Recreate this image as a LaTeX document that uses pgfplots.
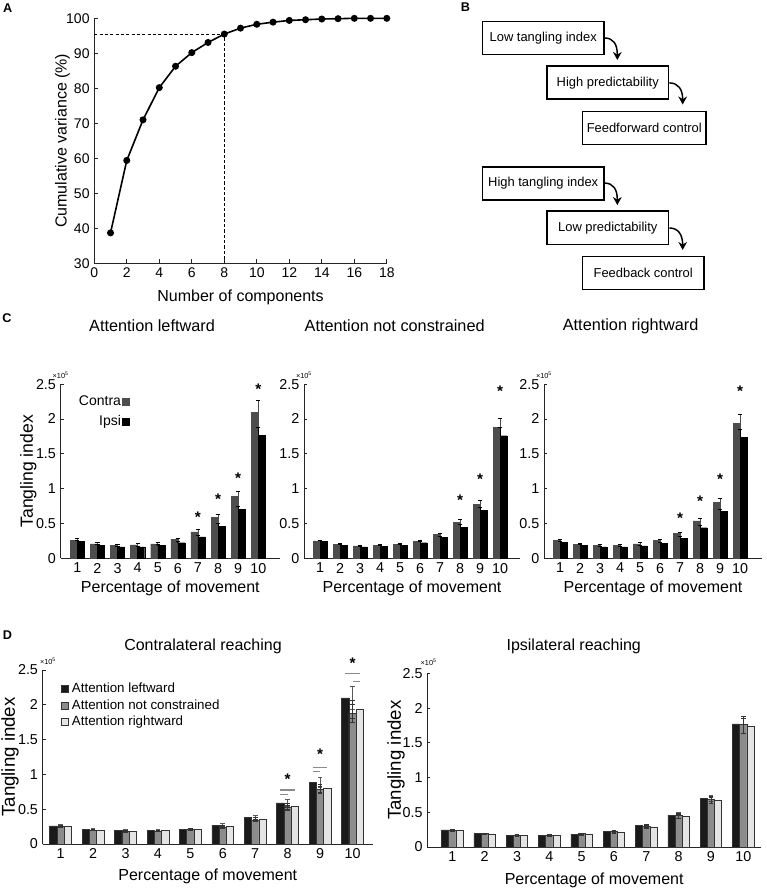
\documentclass[border=0pt]{standalone}
\usepackage{fontspec}
\setmainfont{Liberation Sans}
\usepackage{pgfplots}
\pgfplotsset{compat=1.18}
\usepackage{pgfplotstable}
\usetikzlibrary{arrows.meta}

\definecolor{contra}{HTML}{4D4D4D}
\definecolor{barblack}{HTML}{1A1A1A}
\definecolor{bargrey}{HTML}{8C8C8C}
\definecolor{barlight}{HTML}{E4E4E4}
\definecolor{edge}{HTML}{333333}
\definecolor{sigline}{HTML}{8A8A8A}

% Panel A
\pgfplotstableread{
n v
1 38.7
2 59.4
3 71.0
4 80.2
5 86.3
6 90.2
7 93.1
8 95.5
9 97.2
10 98.3
11 98.9
12 99.4
13 99.6
14 99.8
15 99.9
16 100
17 100
18 100
}\Adata

% Panel C: contra / ipsi with SEM
\pgfplotstableread{
x c ce i ie
1 0.26 0.02 0.245 0.015
2 0.21 0.015 0.19 0.01
3 0.19 0.015 0.165 0.01
4 0.195 0.015 0.165 0.01
5 0.21 0.015 0.185 0.01
6 0.27 0.02 0.225 0.015
7 0.38 0.035 0.31 0.02
8 0.59 0.045 0.46 0.035
9 0.89 0.07 0.70 0.045
10 2.10 0.16 1.77 0.11
}\Cleft
\pgfplotstableread{
x c ce i ie
1 0.25 0.015 0.24 0.015
2 0.20 0.01 0.19 0.01
3 0.18 0.01 0.165 0.01
4 0.185 0.01 0.17 0.01
5 0.205 0.01 0.19 0.01
6 0.245 0.015 0.225 0.015
7 0.34 0.02 0.30 0.02
8 0.52 0.04 0.45 0.035
9 0.78 0.05 0.69 0.04
10 1.88 0.13 1.76 0.12
}\Cnone
\pgfplotstableread{
x c ce i ie
1 0.255 0.015 0.235 0.015
2 0.20 0.01 0.185 0.01
3 0.185 0.01 0.165 0.01
4 0.19 0.01 0.165 0.01
5 0.21 0.015 0.18 0.01
6 0.255 0.015 0.215 0.015
7 0.355 0.025 0.29 0.02
8 0.54 0.04 0.44 0.03
9 0.80 0.06 0.67 0.04
10 1.94 0.13 1.74 0.11
}\Cright

% Panel D
\pgfplotstableread{
x L Le N Ne R Re
1 0.26 0.02 0.25 0.015 0.255 0.015
2 0.21 0.015 0.20 0.01 0.20 0.01
3 0.19 0.015 0.18 0.01 0.185 0.01
4 0.195 0.015 0.185 0.01 0.19 0.01
5 0.21 0.015 0.205 0.01 0.21 0.015
6 0.27 0.02 0.245 0.015 0.255 0.015
7 0.38 0.035 0.34 0.02 0.355 0.025
8 0.59 0.045 0.52 0.04 0.54 0.04
9 0.89 0.07 0.78 0.05 0.80 0.06
10 2.10 0.16 1.88 0.13 1.94 0.13
}\Dcontra
\pgfplotstableread{
x L Le N Ne R Re
1 0.245 0.015 0.24 0.015 0.235 0.015
2 0.19 0.01 0.19 0.01 0.185 0.01
3 0.165 0.01 0.165 0.01 0.165 0.01
4 0.165 0.01 0.17 0.01 0.165 0.01
5 0.185 0.01 0.19 0.01 0.18 0.01
6 0.225 0.015 0.225 0.015 0.215 0.015
7 0.31 0.02 0.30 0.02 0.29 0.02
8 0.46 0.035 0.45 0.035 0.44 0.03
9 0.70 0.045 0.69 0.04 0.67 0.04
10 1.77 0.11 1.76 0.12 1.74 0.11
}\Dipsi

\pgfplotsset{
  base/.style={
    anchor=south west, scale only axis,
    axis lines=left, axis line style={-, line width=0.7pt, color=black!85},
    tick align=inside, major tick length=2.2pt,
    /pgf/number format/assume math mode=true,
    clip=false,
  },
  barax/.style={
    base,
    ymin=0, ymax=2.5, ytick={0,0.5,1,1.5,2,2.5},
    xtick={1,2,...,10},
    xtick style={draw=none}, ytick style={line width=0.6pt, color=black!85},
    tick label style={font=\fontsize{10.75}{12}\selectfont},
    xlabel={Percentage of movement},
    label style={font=\fontsize{12}{14}\selectfont},
  },
  legsq/.style={legend image code/.code={\draw[##1] (0pt,-2.4pt) rectangle (5.2pt,2.8pt);}},
  cbar/.style={ybar, bar width=0.35, line width=0.3pt, forget plot,
    error bars/y dir=plus, error bars/y explicit,
    error bars/error bar style={line width=0.6pt},
    error bars/error mark options={rotate=90, mark size=1.6pt, line width=0.6pt}},
  dbar/.style={ybar, line width=0.5pt, draw=edge, forget plot,
    error bars/y dir=both, error bars/y explicit,
    error bars/error bar style={line width=0.6pt, draw=#1},
    error bars/error mark options={rotate=90, mark size=1.8pt, line width=0.6pt, draw=#1}},
  sig/.style={sigline, line width=0.8pt, forget plot},
}
\tikzset{
  star/.style={font=\bfseries\fontsize{11.5}{11.5}\selectfont, yshift=-2.4pt},
  x105/.style={font=\fontsize{5.5}{6}\selectfont, yshift=6.5pt},
  fbox/.style={draw, line width=1.1pt, minimum width=91.3pt, minimum height=24.8pt, inner sep=0pt, font=\fontsize{9.7}{11}\selectfont},
  farr/.style={line width=1.1pt, -{Stealth[length=6pt,width=6.5pt]}},
  plab/.style={font=\bfseries\fontsize{9.5}{10}\selectfont},
  ctitle/.style={font=\fontsize{12.2}{14}\selectfont},
}

\begin{document}
\begin{tikzpicture}
\path[use as bounding box] (0,0) rectangle (575.25pt,669pt);

% ---------- Panel A ----------
\begin{axis}[base,
  at={(70.7pt,471.5pt)}, width=219.4pt, height=183.75pt,
  xmin=0, xmax=18, ymin=30, ymax=100,
  xtick={0,2,...,18}, ytick={30,40,...,100},
  tick style={line width=0.6pt, color=black!85}, major tick length=3pt,
  tick label style={font=\fontsize{10.5}{12}\selectfont},
  xlabel={Number of components}, ylabel={Cumulative variance (\%)},
  label style={font=\fontsize{12}{14}\selectfont},
  xlabel style={at={(axis description cs:0.5,-0.1377)}, anchor=center},
  ylabel style={at={(axis description cs:-0.1087,0.5)}, anchor=center},
]
\addplot[black, line width=0.6pt, dash pattern=on 2.4pt off 1.6pt] coordinates {(0,95.5) (8,95.5) (8,30)};
\addplot[black, line width=1.2pt, mark=*, mark size=2pt] table[x=n, y=v] {\Adata};
\end{axis}

% ---------- Panel B ----------
\node[fbox] at (407.4pt,640.6pt) {Low tangling index};
\node[fbox] at (455.8pt,607.0pt) {High predictability};
\node[fbox, minimum width=92.8pt] at (483.2pt,573.0pt) {Feedforward control};
\node[fbox] at (407.4pt,531.5pt) {High tangling index};
\node[fbox] at (455.8pt,498.2pt) {Low predictability};
\node[fbox] at (482.4pt,464.2pt) {Feedback control};
\draw[farr] (453.3pt,640.5pt) .. controls (460pt,640.5pt) and (463pt,636pt) .. (463pt,624pt);
\draw[farr] (502pt,606.8pt) .. controls (508.7pt,606.8pt) and (512pt,602pt) .. (512pt,590.6pt);
\draw[farr] (453.3pt,531.7pt) .. controls (460pt,531.7pt) and (463pt,527pt) .. (463pt,515.2pt);
\draw[farr] (502pt,498pt) .. controls (508.7pt,498pt) and (512pt,493pt) .. (512pt,481.5pt);

% ---------- Panel C ----------
\begin{axis}[barax,
  at={(45.5pt,250.2pt)}, width=164.5pt, height=130.7pt,
  xmin=0.17, xmax=11.08,
  ylabel={Tangling index},
  xlabel style={at={(axis description cs:0.5,-0.1706)}, anchor=center},
  ylabel style={at={(axis description cs:-0.1477,0.5)}, anchor=center, font=\fontsize{13.2}{15}\selectfont},
  legend style={at={(axis cs:3.62,2.35)}, anchor=north east, draw=none, fill=none, inner sep=0pt,
    column sep=0pt, row sep=3.6pt, font=\fontsize{10.5}{12}\selectfont,
    nodes={inner sep=1pt, text height=0.72em, text depth=0.22em}},
  legend plot pos=right, legend cell align=right,
]
\addplot[cbar, bar shift=-0.175, fill=contra, draw=contra] table[x=x, y=c, y error=ce] {\Cleft};
\addplot[cbar, bar shift=0.175, fill=black, draw=black] table[x=x, y=i, y error=ie] {\Cleft};
\addlegendimage{legsq, fill=contra, draw=contra}
\addlegendentry{Contra}
\addlegendimage{legsq, fill=black, draw=black}
\addlegendentry{Ipsi}
\node[star] at (axis cs:7,0.63) {*};
\node[star] at (axis cs:8,0.89) {*};
\node[star] at (axis cs:9,1.19) {*};
\node[star] at (axis cs:10,2.47) {*};
\node[x105] at (axis description cs:0,1) {×10\textsuperscript{5}};
\end{axis}

\begin{axis}[barax,
  at={(228pt,250.2pt)}, width=162pt, height=130.7pt,
  xmin=0.2, xmax=11.0,
  xlabel style={at={(axis description cs:0.5,-0.1706)}, anchor=center},
]
\addplot[cbar, bar shift=-0.175, fill=contra, draw=contra] table[x=x, y=c, y error=ce] {\Cnone};
\addplot[cbar, bar shift=0.175, fill=black, draw=black] table[x=x, y=i, y error=ie] {\Cnone};
\node[star] at (axis cs:8,0.88) {*};
\node[star] at (axis cs:9,1.18) {*};
\node[star] at (axis cs:10,2.45) {*};
\node[x105] at (axis description cs:0,1) {×10\textsuperscript{5}};
\end{axis}

\begin{axis}[barax,
  at={(408pt,250.2pt)}, width=163.5pt, height=130.7pt,
  xmin=0.2, xmax=11.1,
  xlabel style={at={(axis description cs:0.5,-0.1706)}, anchor=center},
]
\addplot[cbar, bar shift=-0.175, fill=contra, draw=contra] table[x=x, y=c, y error=ce] {\Cright};
\addplot[cbar, bar shift=0.175, fill=black, draw=black] table[x=x, y=i, y error=ie] {\Cright};
\node[star] at (axis cs:7,0.62) {*};
\node[star] at (axis cs:8,0.87) {*};
\node[star] at (axis cs:9,1.18) {*};
\node[star] at (axis cs:10,2.45) {*};
\node[x105] at (axis description cs:0,1) {×10\textsuperscript{5}};
\end{axis}

\node[ctitle] at (114pt,424.5pt) {Attention leftward};
\node[ctitle] at (296pt,424.5pt) {Attention not constrained};
\node[ctitle] at (473pt,424.5pt) {Attention rightward};

% ---------- Panel D ----------
\begin{axis}[barax,
  at={(32pt,36pt)}, width=247.7pt, height=130.5pt,
  xmin=0.445, xmax=10.63,
  ylabel={Tangling index},
  xlabel style={at={(axis description cs:0.5,-0.1877)}, anchor=center},
  ylabel style={at={(axis description cs:-0.0989,0.5)}, anchor=center, font=\fontsize{14}{16}\selectfont},
  legend style={at={(axis cs:1.0,2.34)}, anchor=north west, draw=none, fill=none, inner sep=0pt,
    column sep=1.6pt, row sep=1.1pt, font=\fontsize{10}{12}\selectfont,
    nodes={inner sep=1pt, text height=0.72em, text depth=0.22em}},
  legend cell align=left,
]
\addplot[dbar=black!65, bar width=0.225, bar shift=-0.225, fill=barblack] table[x=x, y=L, y error=Le] {\Dcontra};
\addplot[dbar=edge, bar width=0.225, bar shift=0, fill=bargrey] table[x=x, y=N, y error=Ne] {\Dcontra};
\addplot[dbar=edge, bar width=0.225, bar shift=0.225, fill=barlight] table[x=x, y=R, y error=Re] {\Dcontra};
\addlegendimage{legsq, fill=barblack, draw=edge, line width=0.5pt}
\addlegendentry{Attention leftward}
\addlegendimage{legsq, fill=bargrey, draw=edge, line width=0.5pt}
\addlegendentry{Attention not constrained}
\addlegendimage{legsq, fill=barlight, draw=edge, line width=0.5pt}
\addlegendentry{Attention rightward}
\addplot[sig] coordinates {(7.775,0.776) (8.225,0.776)};
\addplot[sig] coordinates {(7.775,0.713) (8.0,0.713)};
\addplot[sig] coordinates {(8.775,1.10) (9.225,1.10)};
\addplot[sig] coordinates {(8.775,1.036) (9.0,1.036)};
\addplot[sig] coordinates {(9.775,2.45) (10.225,2.45)};
\addplot[sig] coordinates {(10.0,2.34) (10.225,2.34)};
\node[star] at (axis cs:8,0.97) {*};
\node[star] at (axis cs:9,1.34) {*};
\node[star] at (axis cs:10,2.64) {*};
\node[x105, xshift=4pt] at (axis description cs:0,1) {×10\textsuperscript{5}};
\end{axis}

\begin{axis}[barax,
  at={(320.5pt,33.75pt)}, width=250.3pt, height=130.3pt,
  xmin=0.227, xmax=10.55,
  ylabel={Tangling index},
  xlabel style={at={(axis description cs:0.5,-0.19)}, anchor=center},
  ylabel style={at={(axis description cs:-0.0939,0.5)}, anchor=center, font=\fontsize{14}{16}\selectfont},
]
\addplot[dbar=black!65, bar width=0.22, bar shift=-0.22, fill=barblack] table[x=x, y=L, y error=Le] {\Dipsi};
\addplot[dbar=edge, bar width=0.22, bar shift=0, fill=bargrey] table[x=x, y=N, y error=Ne] {\Dipsi};
\addplot[dbar=edge, bar width=0.22, bar shift=0.22, fill=barlight] table[x=x, y=R, y error=Re] {\Dipsi};
\node[x105, xshift=1pt, yshift=1.5pt] at (axis description cs:0,1) {×10\textsuperscript{5}};
\end{axis}

\node[font=\fontsize{12}{14}\selectfont] at (152.25pt,184pt) {Contralateral reaching};
\node[font=\fontsize{12}{14}\selectfont] at (430.3pt,184pt) {Ipsilateral reaching};

% panel letters
\node[plab] at (5.8pt,663.2pt) {A};
\node[plab] at (349.1pt,663.4pt) {B};
\node[plab] at (5.3pt,430.5pt) {C};
\node[plab] at (5.6pt,192.7pt) {D};
\end{tikzpicture}
\end{document}
